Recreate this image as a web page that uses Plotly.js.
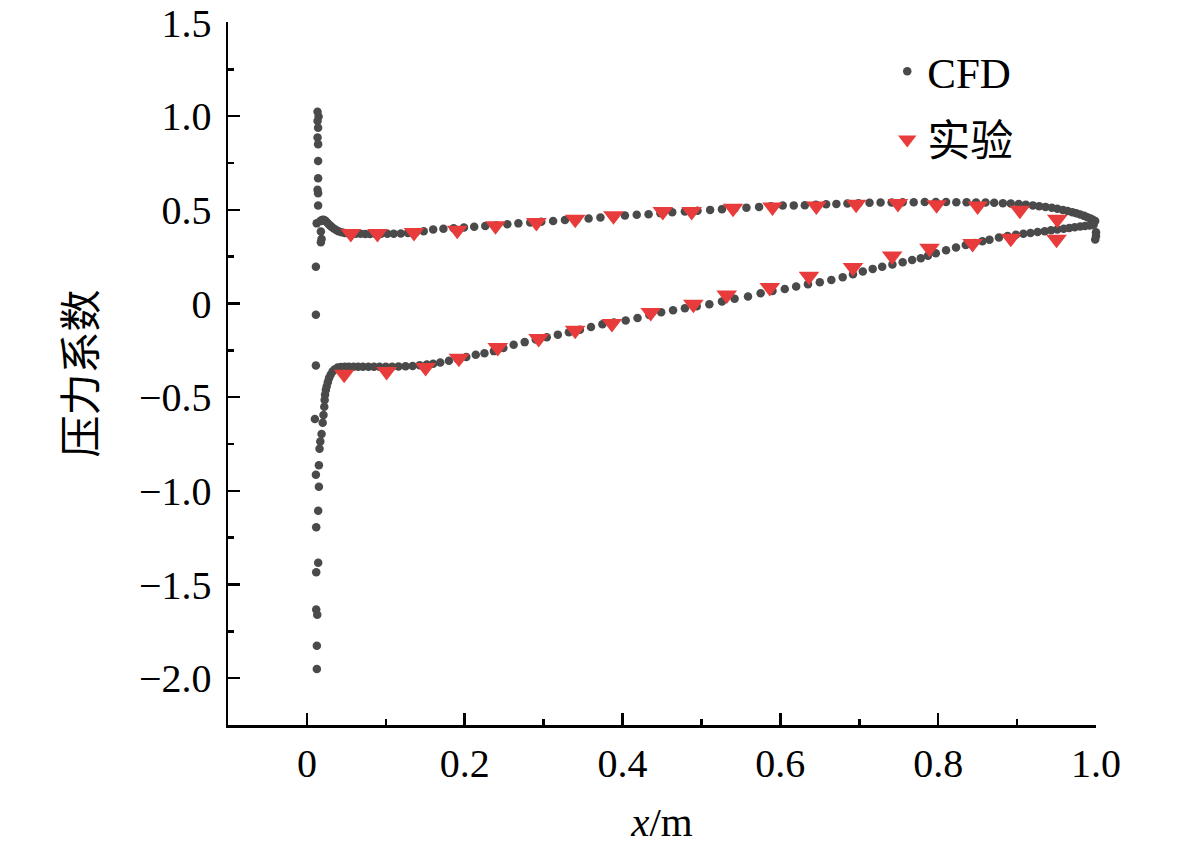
<!DOCTYPE html>
<html>
<head>
<meta charset="utf-8">
<script src="https://cdn.plot.ly/plotly-3.0.1.min.js"></script>
<style>
html,body{margin:0;padding:0;background:#fff;}
#chart{width:1181px;height:852px;}
</style>
</head>
<body>
<div id="chart"></div>
<script>
// ---- CFD: leading-edge column of points (x ≈ 0.01) ----
const cfdLeX = [0.0135,0.0148,0.0135,0.0142,0.0135,0.0142,0.0142,0.0142,0.0135,0.0142,0.0142,0.0124,0.0177,0.0186,0.0177,0.0114,0.0114,0.0114,0.0101,0.0152,0.0114,0.0152,0.0143,0.0118,0.0143,0.0118,0.0118,0.0131,0.0126,0.0126];
const cfdLeY = [1.024,0.998,0.975,0.939,0.886,0.850,0.761,0.669,0.607,0.589,0.523,0.428,0.384,0.345,0.327,0.197,-0.060,-0.331,-0.617,-0.863,-0.914,-0.978,-1.106,-1.194,-1.384,-1.434,-1.634,-1.661,-1.827,-1.951];

// ---- CFD: upper branch (Cp ≈ 0.37 … 0.54) ----
const cfdUpX = [0.017,0.019,0.021,0.023,0.025,0.027,0.029,0.031,0.034,0.037,0.040,0.044,0.048,0.052,0.057,0.062,0.068,0.074,0.080,0.087,0.094,0.102,0.110,0.119,0.128,0.138,0.148,0.160,0.173,0.186,0.199,0.212,0.226,0.240,0.254,0.268,0.283,0.297,0.312,0.327,0.342,0.357,0.372,0.388,0.403,0.418,0.433,0.448,0.463,0.479,0.495,0.511,0.526,0.542,0.557,0.573,0.588,0.603,0.617,0.631,0.645,0.658,0.671,0.685,0.699,0.713,0.727,0.741,0.755,0.769,0.783,0.797,0.810,0.823,0.836,0.848,0.860,0.871,0.882,0.892,0.902,0.911,0.920,0.928,0.936,0.944,0.951,0.958,0.964,0.970,0.975,0.980,0.985,0.989,0.993,0.996,0.999,1.002,1.004];
const cfdUpY = [0.440,0.446,0.447,0.443,0.435,0.426,0.418,0.410,0.400,0.392,0.386,0.381,0.377,0.375,0.373,0.372,0.372,0.371,0.371,0.371,0.372,0.372,0.373,0.374,0.376,0.380,0.386,0.395,0.399,0.402,0.406,0.410,0.414,0.418,0.423,0.428,0.433,0.437,0.441,0.446,0.450,0.454,0.459,0.465,0.470,0.474,0.477,0.482,0.487,0.491,0.495,0.500,0.504,0.508,0.512,0.516,0.520,0.523,0.524,0.525,0.528,0.530,0.532,0.534,0.536,0.538,0.539,0.540,0.541,0.541,0.542,0.542,0.542,0.541,0.541,0.540,0.539,0.538,0.536,0.534,0.531,0.528,0.524,0.520,0.516,0.511,0.506,0.500,0.494,0.488,0.482,0.475,0.468,0.461,0.454,0.447,0.441,0.435,0.430];

// ---- CFD: lower branch (Cp ≈ -0.78 … 0.42) ----
const cfdLoX = [0.016,0.017,0.0186,0.020,0.021,0.022,0.0225,0.023,0.024,0.025,0.0265,0.028,0.030,0.0325,0.035,0.039,0.043,0.048,0.053,0.059,0.065,0.071,0.078,0.085,0.092,0.100,0.108,0.116,0.125,0.134,0.143,0.152,0.160,0.169,0.180,0.191,0.202,0.214,0.225,0.237,0.249,0.262,0.276,0.290,0.304,0.318,0.332,0.346,0.360,0.3745,0.389,0.404,0.419,0.434,0.449,0.464,0.479,0.494,0.510,0.526,0.542,0.559,0.575,0.590,0.6056,0.620,0.635,0.650,0.6646,0.679,0.692,0.7045,0.717,0.729,0.742,0.755,0.767,0.778,0.787,0.797,0.810,0.8226,0.835,0.846,0.856,0.865,0.877,0.888,0.8985,0.908,0.917,0.926,0.935,0.943,0.951,0.959,0.966,0.973,0.980,0.986,0.992,0.997,1.001];
const cfdLoY = [-0.775,-0.736,-0.697,-0.637,-0.595,-0.551,-0.515,-0.487,-0.462,-0.443,-0.420,-0.399,-0.380,-0.363,-0.352,-0.342,-0.339,-0.338,-0.338,-0.338,-0.338,-0.338,-0.338,-0.338,-0.338,-0.337,-0.337,-0.336,-0.335,-0.333,-0.330,-0.326,-0.321,-0.315,-0.306,-0.296,-0.285,-0.274,-0.266,-0.254,-0.237,-0.220,-0.206,-0.192,-0.180,-0.166,-0.153,-0.140,-0.125,-0.110,-0.101,-0.091,-0.077,-0.061,-0.047,-0.036,-0.025,-0.014,-0.004,0.011,0.025,0.037,0.055,0.067,0.078,0.091,0.103,0.114,0.126,0.140,0.157,0.171,0.185,0.197,0.208,0.220,0.233,0.242,0.255,0.268,0.284,0.299,0.313,0.323,0.332,0.340,0.352,0.360,0.367,0.372,0.377,0.382,0.386,0.391,0.395,0.399,0.403,0.407,0.411,0.414,0.417,0.420,0.422];

// ---- CFD: trailing-edge points ----
const cfdTeX = [1.003,1.002,1.001,1.000,1.000,0.999];
const cfdTeY = [0.440,0.420,0.400,0.380,0.360,0.342];

// ---- Experiment (实验) ----
const expUpX = [0.0556,0.0894,0.1357,0.1905,0.239,0.2908,0.340,0.3885,0.451,0.4876,0.540,0.590,0.6456,0.696,0.749,0.798,0.850,0.9035,0.951];
const expUpY = [0.374,0.374,0.379,0.391,0.415,0.432,0.450,0.468,0.491,0.491,0.509,0.516,0.521,0.530,0.534,0.527,0.521,0.498,0.450];
const expLoX = [0.0472,0.101,0.1504,0.1926,0.2419,0.2937,0.340,0.3865,0.4357,0.4897,0.532,0.5866,0.6363,0.692,0.7417,0.789,0.8436,0.892,0.950];
const expLoY = [-0.377,-0.363,-0.342,-0.292,-0.235,-0.187,-0.142,-0.107,-0.048,-0.004,0.046,0.085,0.146,0.192,0.254,0.295,0.320,0.348,0.343];

// ---- Axis ticks ----
const xTickVals = [0,0.2,0.4,0.6,0.8,1.0];
const xTickText = ['0','0.2','0.4','0.6','0.8','1.0'];
const xMinorVals = [-0.1,0.1,0.3,0.5,0.7,0.9];
const yTickVals = [-2.0,-1.5,-1.0,-0.5,0,0.5,1.0,1.5];
const yTickText = ['\u22122.0','\u22121.5','\u22121.0','\u22120.5','0','0.5','1.0','1.5'];
const yMinorVals = [-2.25,-1.75,-1.25,-0.75,-0.25,0.25,0.75,1.25];

const seriesNames = ['CFD','实验'];

const serif = 'Liberation Serif, Times New Roman, serif';
const cjk = 'Noto Sans CJK SC, sans-serif';

const cfdX = cfdLeX.concat(cfdUpX, cfdLoX, cfdTeX);
const cfdY = cfdLeY.concat(cfdUpY, cfdLoY, cfdTeY);
const expX = expUpX.concat(expLoX);
const expY = expUpY.concat(expLoY);

const traces = [
  {
    x: cfdX, y: cfdY, type: 'scatter', mode: 'markers', name: seriesNames[0],
    marker: {symbol: 'circle', size: 8.5, color: '#4a4a4a'},
    cliponaxis: false, legend: 'legend'
  },
  {
    x: expX, y: expY, type: 'scatter', mode: 'markers', name: seriesNames[1],
    marker: {symbol: 'triangle-down', size: 18, color: '#e83c3c'},
    cliponaxis: false, legend: 'legend2'
  }
];

const axisCommon = {
  showgrid: false, zeroline: false, showline: true, linecolor: '#000', linewidth: 2.5,
  ticks: 'inside', ticklen: 12, tickwidth: 2.5, tickcolor: '#000',
  mirror: false, tickmode: 'array'
};

const layout = {
  width: 1181, height: 852,
  paper_bgcolor: '#fff', plot_bgcolor: '#fff',
  margin: {l: 228, r: 85, t: 22, b: 127},
  showlegend: true,
  xaxis: Object.assign({}, axisCommon, {
    range: [-0.1, 1.0],
    tickvals: xTickVals, ticktext: xTickText,
    tickfont: {family: serif, size: 40, color: '#000'},
    ticklabelstandoff: 1,
    minor: {tickmode: 'array', tickvals: xMinorVals, ticks: 'inside', ticklen: 6, tickwidth: 2.5, tickcolor: '#000'},
    title: {text: '<i>x</i>/m', font: {family: serif, size: 41, color: '#000'}, standoff: 23}
  }),
  yaxis: Object.assign({}, axisCommon, {
    range: [-2.25, 1.503],
    tickvals: yTickVals, ticktext: yTickText,
    tickfont: {family: serif, size: 40, color: '#000'},
    ticklabelstandoff: 6,
    ticklabeloverflow: 'allow',
    minor: {tickmode: 'array', tickvals: yMinorVals, ticks: 'inside', ticklen: 6, tickwidth: 2.5, tickcolor: '#000'},
    title: {text: '压力系数', font: {family: cjk, size: 42, color: '#000'}, standoff: 29}
  }),
  legend: {
    x: 0.7595, y: 0.979, xanchor: 'left', yanchor: 'top',
    bgcolor: 'rgba(0,0,0,0)', borderwidth: 0,
    font: {family: serif, size: 43, color: '#000'}
  },
  legend2: {
    x: 0.7595, y: 0.882, xanchor: 'left', yanchor: 'top',
    bgcolor: 'rgba(0,0,0,0)', borderwidth: 0,
    font: {family: cjk, size: 43, color: '#000'}
  }
};

Plotly.newPlot('chart', traces, layout, {displayModeBar: false, staticPlot: true});
</script>
</body>
</html>
